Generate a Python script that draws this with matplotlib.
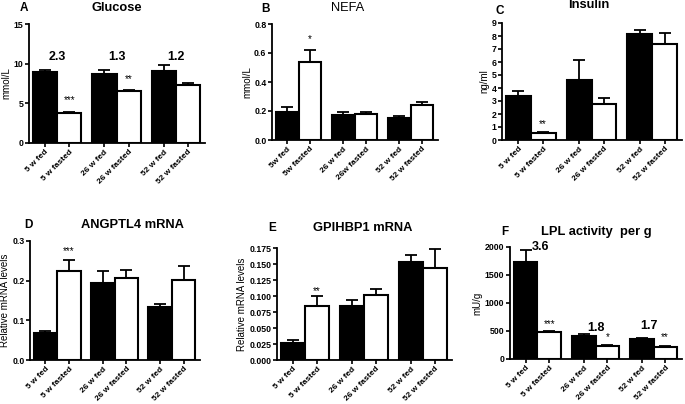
import matplotlib
matplotlib.use("Agg")
import matplotlib.pyplot as plt
import numpy as np

W, H = 685, 404
plt.rcParams['font.family'] = ['Liberation Sans', 'DejaVu Sans']

labels_A = ["5 w fed", "5 w fasted", "26 w fed", "26 w fasted", "52 w fed", "52 w fasted"]
labels_B = ["5w fed", "5w fasted", "26 w fed", "26w fasted", "52 w fed", "52 w fasted"]

glucose = [9.0, 3.8, 8.75, 6.5, 9.05, 7.25]
glucose_err = [0.2, 0.1, 0.5, 0.15, 0.8, 0.3]
nefa = [0.195, 0.535, 0.175, 0.18, 0.15, 0.24]
nefa_err = [0.03, 0.085, 0.02, 0.01, 0.015, 0.025]
insulin = [3.4, 0.55, 4.6, 2.75, 8.15, 7.35]
insulin_err = [0.4, 0.1, 1.55, 0.5, 0.3, 0.9]
angptl4 = [0.068, 0.225, 0.195, 0.207, 0.133, 0.202]
angptl4_err = [0.006, 0.028, 0.029, 0.019, 0.009, 0.036]
gpihbp1 = [0.027, 0.085, 0.085, 0.102, 0.153, 0.143]
gpihbp1_err = [0.004, 0.015, 0.008, 0.009, 0.011, 0.031]
lpl = [1730, 490, 410, 235, 355, 210]
lpl_err = [220, 12, 45, 15, 20, 15]

# annotations: (x position, y value, text, size, bold, ha)
panels = [
    dict(letter="A", title="Glucose", tbold=True, vals=glucose, err=glucose_err, labels=labels_A,
         ylabel="mmol/L", ylim=15, yticks=[0, 5, 10, 15], fmt="{:g}",
         box=(29, 205, 24, 143), letter_px=(24, 8), title_px=(117, 8),
         ann=[(0.5, 10.85, "2.3", 9, True, "center"), (1, 5.4, "***", 7, False, "center"),
              (2.95, 10.85, "1.3", 9, True, "center"), (3.45, 8.05, "**", 7, False, "center"),
              (5.4, 10.85, "1.2", 9, True, "center")]),
    dict(letter="B", title="NEFA", tbold=False, vals=nefa, err=nefa_err, labels=labels_B,
         ylabel="mmol/L", ylim=0.8, yticks=[0, 0.2, 0.4, 0.6, 0.8], fmt="{:.1f}",
         box=(272, 438, 24, 140), letter_px=(266, 9), title_px=(348, 8),
         ann=[(1, 0.695, "*", 7, False, "center")]),
    dict(letter="C", title="Insulin", tbold=True, vals=insulin, err=insulin_err, labels=labels_A,
         ylabel="ng/ml", ylim=9, yticks=list(range(10)), fmt="{:g}",
         box=(502, 682, 23, 140), letter_px=(500, 11), title_px=(589, 5),
         ann=[(1, 1.2, "**", 7, False, "center")]),
    dict(letter="D", title="ANGPTL4 mRNA", tbold=True, vals=angptl4, err=angptl4_err, labels=labels_A,
         ylabel="Relative mRNA levels", ylim=0.3, yticks=[0, 0.1, 0.2, 0.3], fmt="{:.1f}",
         box=(30, 200, 241, 360), letter_px=(28, 225), title_px=(132, 225),
         ann=[(1, 0.275, "***", 7, False, "center")]),
    dict(letter="E", title="GPIHBP1 mRNA", tbold=True, vals=gpihbp1, err=gpihbp1_err, labels=labels_A,
         ylabel="Relative mRNA levels", ylim=0.175,
         yticks=[0, 0.025, 0.05, 0.075, 0.1, 0.125, 0.15, 0.175], fmt="{:.3f}",
         box=(277, 452, 248, 360), letter_px=(272, 228), title_px=(363, 228),
         ann=[(1, 0.108, "**", 7, False, "center")]),
    dict(letter="F", title="LPL activity  per g", tbold=True, vals=lpl, err=lpl_err, labels=labels_A,
         ylabel="mU/g", ylim=2000, yticks=[0, 500, 1000, 1500, 2000], fmt="{:g}",
         box=(510, 682, 247, 359), letter_px=(505, 232), title_px=(596, 232),
         ann=[(0.25, 2000, "3.6", 9, True, "left"), (1, 620, "***", 7, False, "center"),
              (2.95, 550, "1.8", 9, True, "center"), (3.45, 390, "*", 7, False, "center"),
              (5.2, 590, "1.7", 9, True, "center"), (5.85, 390, "**", 7, False, "center")]),
]

x = np.array([0, 1, 2.45, 3.45, 4.9, 5.9])
colors = ["black", "white"] * 3

fig = plt.figure(figsize=(W / 100, H / 100), dpi=100)
for p in panels:
    x0, x1, ytop, ybot = p["box"]
    ax = fig.add_axes([x0 / W, 1 - ybot / H, (x1 - x0) / W, (ybot - ytop) / H])
    vals = np.array(p["vals"])
    err = np.array(p["err"])
    ax.bar(x, vals, width=1.0, color=colors, edgecolor="black", linewidth=1.5, zorder=3)
    ax.errorbar(x, vals, yerr=[np.zeros_like(err), err], fmt="none", ecolor="black",
                elinewidth=1.3, capsize=4, capthick=1.3, zorder=2)
    ax.set_xlim(-0.66, 6.6)
    ax.set_ylim(0, p["ylim"])
    ax.spines["top"].set_visible(False)
    ax.spines["right"].set_visible(False)
    ax.spines["left"].set_linewidth(1.3)
    ax.spines["bottom"].set_linewidth(1.3)
    ax.set_yticks(p["yticks"])
    ax.set_yticklabels([p["fmt"].format(t) for t in p["yticks"]], fontsize=6.3, fontweight="bold")
    ax.set_xticks(x)
    ax.set_xticklabels(p["labels"], rotation=45, ha="right", rotation_mode="anchor",
                       fontsize=6.0, fontweight="bold")
    ax.tick_params(axis="both", length=3, width=1.2, pad=1)
    ax.set_ylabel(p["ylabel"], fontsize=7, labelpad=1.5)
    lx, ly = p["letter_px"]
    fig.text(lx / W, 1 - ly / H, p["letter"], fontsize=8.5, fontweight="bold",
             ha="center", va="center")
    tx, ty = p["title_px"]
    fig.text(tx / W, 1 - ty / H, p["title"], fontsize=9.3,
             fontweight="bold" if p["tbold"] else "normal", ha="center", va="center")
    for ax_x, ax_y, s, fs, b, ha in p["ann"]:
        ax.text(ax_x, ax_y, s, ha=ha, va="center", fontsize=fs,
                fontweight="bold" if b else "normal", clip_on=False)

fig.savefig("out.png", dpi=100)
